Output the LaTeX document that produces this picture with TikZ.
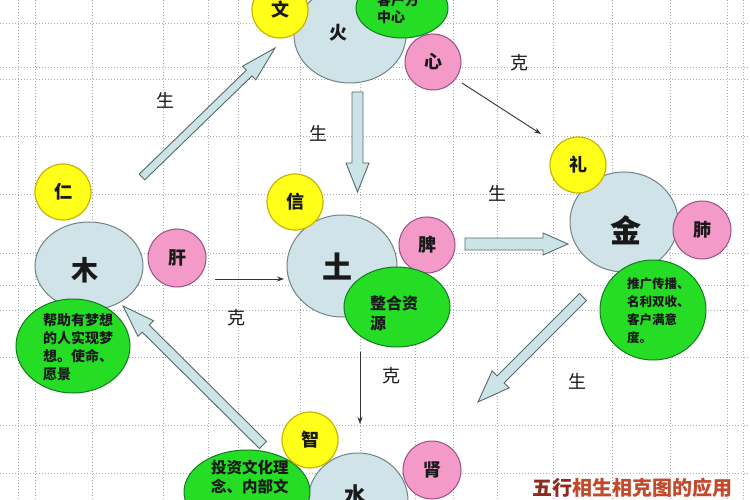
\documentclass[tikz,border=0pt]{standalone}
\usepackage{fontspec}
\setmainfont{Noto Sans CJK SC}
\usetikzlibrary{calc,shapes.geometric,arrows.meta}
\definecolor{bluf}{HTML}{CFE3E8}
\definecolor{blud}{HTML}{6E8486}
\definecolor{yelf}{HTML}{FFFF1A}
\definecolor{yeld}{HTML}{C8B400}
\definecolor{pinf}{HTML}{F49AC9}
\definecolor{pind}{HTML}{9A4E82}
\definecolor{grnf}{HTML}{24DD24}
\definecolor{grnd}{HTML}{127A22}
\definecolor{arrf}{HTML}{CCE4E7}
\definecolor{arrd}{HTML}{55696B}
\definecolor{gridc}{HTML}{A8AEB2}
\definecolor{ttlA}{HTML}{8E2A1E}
\definecolor{ttlB}{HTML}{C24A2C}
\newcommand{\fatarrow}[5]{%
  \coordinate (fatc) at ($(#2)!#5!(#1)$);
  \filldraw[fatstyle]
    ($(#1)!#3!90:(#2)$) -- ($(fatc)!#3!90:(#2)$) -- ($(fatc)!#4!90:(#2)$) -- (#2)
    -- ($(fatc)!#4!-90:(#2)$) -- ($(fatc)!#3!-90:(#2)$) -- ($(#1)!#3!-90:(#2)$) -- cycle;}
\begin{document}
\begin{tikzpicture}[x=1pt,y=-1pt,
  every node/.style={inner sep=0pt, text=black!90},
  blueell/.style={ellipse, draw=blud, fill=bluf, line width=1pt},
  yelc/.style={circle, draw=yeld, fill=yelf, line width=1.2pt, minimum size=56pt, font=\fontsize{18}{18}\selectfont\bfseries},
  pinc/.style={circle, draw=pind, fill=pinf, line width=1pt, minimum size=56pt, font=\fontsize{18}{18}\selectfont\bfseries},
  grne/.style={ellipse, draw=grnd, fill=grnf, line width=1pt},
  gtext/.style={anchor=north west, align=left},
  fatstyle/.style={fill=arrf, draw=arrd, line width=0.9pt, line join=miter},
  thinarr/.style={draw=black!80, line width=0.9pt, -{Stealth[length=7pt,width=5pt]}},
  lbl/.style={font=\fontsize{18}{18}\selectfont},
  gridl/.style={draw=gridc, dotted, line width=1pt}
]
\useasboundingbox (0,0) rectangle (750,500);
\fill[white] (0,0) rectangle (750,500);
\clip (0,0) rectangle (750,500);
% background grid
\foreach \gx in {18,35,92,163,208,238,300,360,415,453,497,553,612,670,727,743}
  \draw[gridl] (\gx,0) -- (\gx,500);
\foreach \gy in {24,68,80,137,195,253,285,310,357,425,473}
  \draw[gridl] (0,\gy) -- (750,\gy);

% ---- Fire
\node[blueell, minimum width=112pt, minimum height=96pt] (huo) at (350,35) {};
\node[font=\fontsize{18}{18}\selectfont\bfseries] (huot) at (338,33) {火};
\node[yelc] (wen) at (280,10) {文};
\node[grne, minimum width=92pt, minimum height=60pt] (huog) at (402,8) {};
\node[gtext, font=\fontsize{14}{17}\selectfont\bfseries] (huogt) at (377,-7) {客户方\\中心};
\node[pinc] (xin) at (433,62) {心};

% ---- Wood
\node[blueell, minimum width=108pt, minimum height=88pt] (mu) at (89,266) {};
\node[font=\fontsize{27}{27}\selectfont\bfseries] (mut) at (85,270) {木};
\node[yelc] (ren) at (63,192) {仁};
\node[pinc, minimum size=58pt] (gan) at (177,258) {肝};
\node[grne, minimum width=114pt, minimum height=94pt] (mug) at (73,346) {};
\node[gtext, font=\fontsize{14}{18}\selectfont\bfseries] (mugt) at (43,313) {帮助有梦想\\的人实现梦\\想。使命、\\愿景};

% ---- Earth
\node[blueell, minimum width=110pt, minimum height=102pt] (tu) at (342,266) {};
\node[font=\fontsize{30}{30}\selectfont\bfseries] (tut) at (337,266) {土};
\node[yelc] (xinx) at (295,202) {信};
\node[pinc] (pi) at (427,245) {脾};
\node[grne, minimum width=106pt, minimum height=80pt] (tug) at (397,307) {};
\node[gtext, font=\fontsize{16}{20}\selectfont\bfseries] (tugt) at (370,296) {整合资\\源};

% ---- Metal
\node[blueell, minimum width=108pt, minimum height=100pt] (jin) at (624,222) {};
\node[font=\fontsize{31}{31}\selectfont\bfseries] (jint) at (626,230) {金};
\node[yelc] (li) at (578,165) {礼};
\node[pinc, minimum size=58pt] (fei) at (702,230) {肺};
\node[grne, minimum width=106pt, minimum height=100pt] (jing) at (653,310) {};
\node[gtext, font=\fontsize{12.5}{17.7}\selectfont\bfseries] (jingt) at (627,278) {推广传播、\\名利双收、\\客户满意\\度。};

% ---- Water
\node[blueell, minimum width=100pt, minimum height=96pt] (shui) at (358,501) {};
\node[font=\fontsize{22}{22}\selectfont\bfseries] (shuit) at (355,495) {水};
\node[grne, minimum width=126pt, minimum height=84pt] (shuig) at (247,492) {};
\node[gtext, font=\fontsize{15.5}{19}\selectfont\bfseries] (shuigt) at (211,460) {投资文化理\\念、内部文};
\node[yelc] (zhi) at (310,440) {智};
\node[pinc, minimum size=58pt] (shen) at (432,470) {肾};

% ---- arrows
\coordinate (a1t) at (142,177); \coordinate (a1h) at (275,48);
\fatarrow{a1t}{a1h}{4pt}{9.5pt}{36pt}
\coordinate (a2t) at (357.5,92); \coordinate (a2h) at (357.5,192);
\fatarrow{a2t}{a2h}{5.5pt}{11.5pt}{29pt}
\coordinate (a3t) at (465,244); \coordinate (a3h) at (568,244);
\fatarrow{a3t}{a3h}{6pt}{11pt}{25pt}
\coordinate (a4t) at (583,297); \coordinate (a4h) at (478,402);
\fatarrow{a4t}{a4h}{5pt}{12pt}{32pt}
\coordinate (a5t) at (263,445); \coordinate (a5h) at (123,306);
\fatarrow{a5t}{a5h}{5pt}{11pt}{32pt}

\coordinate (k1t) at (462,83); \coordinate (k1h) at (541,134);
\draw[thinarr] (k1t) -- (k1h);
\coordinate (k2t) at (215,279); \coordinate (k2h) at (284,279);
\draw[thinarr] (k2t) -- (k2h);
\coordinate (k3t) at (360,352); \coordinate (k3h) at (360,424);
\draw[thinarr] (k3t) -- (k3h);

% labels
\node[lbl] (l1) at (165,100) {生};
\node[lbl] (l2) at (318,133) {生};
\node[lbl] (l3) at (519,63) {克};
\node[lbl] (l4) at (497,193) {生};
\node[lbl] (l5) at (236,318) {克};
\node[lbl] (l6) at (391,376) {克};
\node[lbl] (l7) at (577,381) {生};

% title
\node[anchor=west, font=\fontsize{20}{20}\selectfont\bfseries] (title) at (532,488) {\textcolor{ttlA}{五行}\textcolor{ttlB}{相生相克图的应用}};
\end{tikzpicture}
\end{document}
